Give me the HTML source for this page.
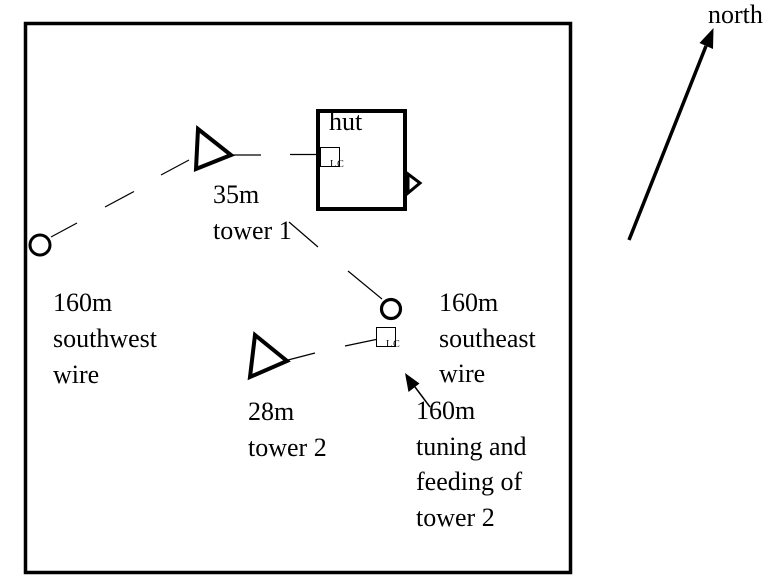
<!DOCTYPE html>
<html><head><meta charset="utf-8"><style>
html,body{margin:0;padding:0;background:#fff;}
svg{display:block;}
text{font-family:"Liberation Serif",serif;font-size:26px;fill:#000;}
</style></head><body>
<svg width="780" height="576" viewBox="0 0 780 576" xmlns="http://www.w3.org/2000/svg">
<rect x="25.5" y="23.5" width="545" height="549" fill="none" stroke="#000" stroke-width="3.5"/>
<!-- hut -->
<rect x="318" y="111" width="87" height="98" fill="none" stroke="#000" stroke-width="4"/>
<polygon points="408,174 420,183 408,193" fill="none" stroke="#000" stroke-width="3"/>
<rect x="320.5" y="147.5" width="19" height="19" fill="none" stroke="#000" stroke-width="1"/>
<text x="330" y="167" style="font-size:10px;letter-spacing:1px">LC</text>
<text x="329" y="130">hut</text>
<!-- tower 1 -->
<polygon points="198,129 231,155 196,169" fill="none" stroke="#000" stroke-width="4" stroke-linejoin="miter"/>
<line x1="232" y1="155" x2="261" y2="155" stroke="#000" stroke-width="1.2"/>
<line x1="290" y1="154.5" x2="318" y2="154.5" stroke="#000" stroke-width="1.2"/>
<text x="213" y="203">35m</text>
<text x="213" y="239">tower 1</text>
<!-- SW wire -->
<circle cx="40" cy="245" r="10" fill="none" stroke="#000" stroke-width="3"/>
<line x1="51" y1="237" x2="77" y2="223" stroke="#000" stroke-width="1.2"/>
<line x1="105" y1="207" x2="134" y2="191.5" stroke="#000" stroke-width="1.2"/>
<line x1="161" y1="175" x2="189" y2="160" stroke="#000" stroke-width="1.2"/>
<text x="53" y="311">160m</text>
<text x="53" y="347">southwest</text>
<text x="53" y="383">wire</text>
<!-- SE wire -->
<line x1="289" y1="222" x2="318" y2="247" stroke="#000" stroke-width="1.2"/>
<line x1="348" y1="271" x2="382" y2="299" stroke="#000" stroke-width="1.2"/>
<circle cx="391" cy="309" r="9.5" fill="none" stroke="#000" stroke-width="3.2"/>
<rect x="376.5" y="327.5" width="19" height="19" fill="none" stroke="#000" stroke-width="1"/>
<text x="386" y="347" style="font-size:10px;letter-spacing:1px">LC</text>
<text x="439" y="311">160m</text>
<text x="439" y="347">southeast</text>
<text x="439" y="382">wire</text>
<!-- tower 2 -->
<polygon points="255,335 287,361 250,377" fill="none" stroke="#000" stroke-width="4"/>
<line x1="288" y1="360" x2="315" y2="353" stroke="#000" stroke-width="1.2"/>
<line x1="345" y1="346" x2="376" y2="339.5" stroke="#000" stroke-width="1.2"/>
<text x="248" y="420">28m</text>
<text x="248" y="456">tower 2</text>
<!-- tuning arrow -->
<line x1="430" y1="407" x2="412" y2="383" stroke="#000" stroke-width="1.5"/>
<polygon points="405,373 419.5,383.5 408.5,392" fill="#000"/>
<text x="416" y="419">160m</text>
<text x="416" y="455">tuning and</text>
<text x="416" y="490">feeding of</text>
<text x="416" y="526">tower 2</text>
<!-- north -->
<line x1="629" y1="240" x2="706" y2="46" stroke="#000" stroke-width="3.5"/>
<polygon points="713.5,28 699.5,43 713,49" fill="#000"/>
<text x="708" y="23">north</text>
</svg>
</body></html>
